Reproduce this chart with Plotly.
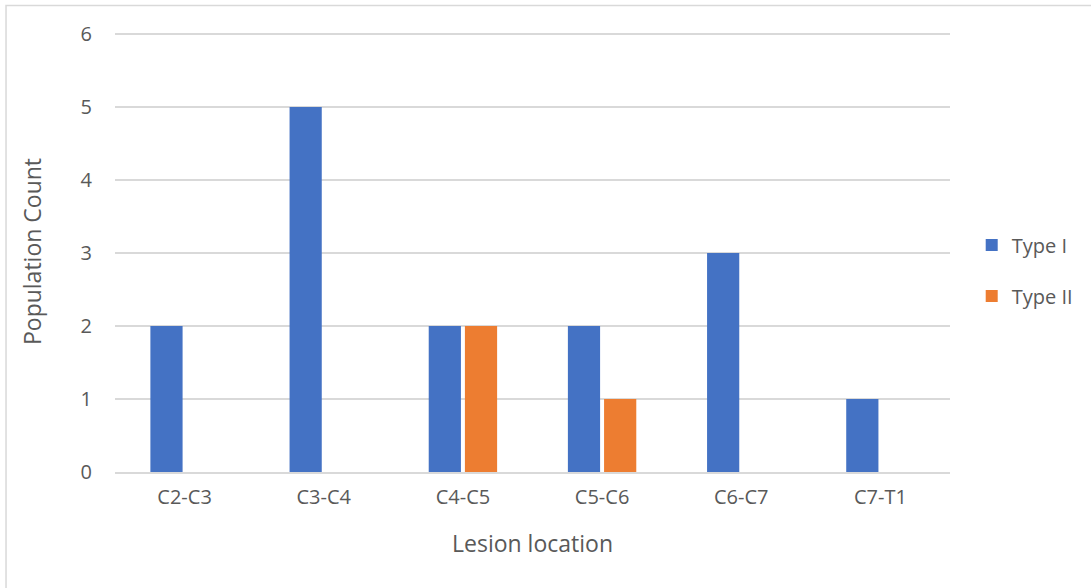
import plotly.graph_objects as go

locations = ["C2-C3", "C3-C4", "C4-C5", "C5-C6", "C6-C7", "C7-T1"]
type_i = [2, 5, 2, 2, 3, 1]
type_ii = [0, 0, 2, 1, 0, 0]

FONT = "Open Sans"
TXT = "#595959"

fig = go.Figure()
fig.add_trace(go.Bar(x=locations, y=type_i, name="Type I",
                     marker=dict(color="#4472C4", line=dict(width=0)),
                     legendgroup="a"))
fig.add_trace(go.Bar(x=locations, y=type_ii, name="Type II",
                     marker=dict(color="#ED7D31", line=dict(width=0)),
                     legendgroup="b"))

fig.update_layout(
    width=1091, height=588,
    margin=dict(l=115, r=141, t=31, b=116),
    paper_bgcolor="white", plot_bgcolor="white",
    barmode="group", bargap=0.48, bargroupgap=0.11,
    font=dict(family=FONT, color=TXT, size=20),
    legend=dict(x=1.026, y=0.457, xanchor="left", yanchor="middle",
                font=dict(size=20, color=TXT), tracegroupgap=22,
                itemwidth=30, bgcolor="rgba(0,0,0,0)"),
    xaxis=dict(
        showgrid=False, showline=True, linecolor="#D9D9D9", linewidth=1.5,
        ticks="", tickfont=dict(size=20, color=TXT), ticklabelstandoff=6,
        title=dict(text="Lesion location", font=dict(size=23, color=TXT), standoff=27),
    ),
    yaxis=dict(
        range=[0, 6.04], tick0=0, dtick=1, showgrid=True, gridcolor="#D9D9D9", gridwidth=1.5,
        zeroline=False, showline=False, ticks="",
        tickfont=dict(size=20, color=TXT), ticklabelstandoff=22,
        title=dict(text="Population Count", font=dict(size=23, color=TXT), standoff=32),
    ),
    shapes=[dict(type="rect", xref="paper", yref="paper",
                 x0=-0.1305, x1=1.2, y0=-0.3, y1=1.058,
                 line=dict(color="#D9D9D9", width=1.5), fillcolor="rgba(0,0,0,0)",
                 layer="below")],
)

fig.write_html("out.html")
